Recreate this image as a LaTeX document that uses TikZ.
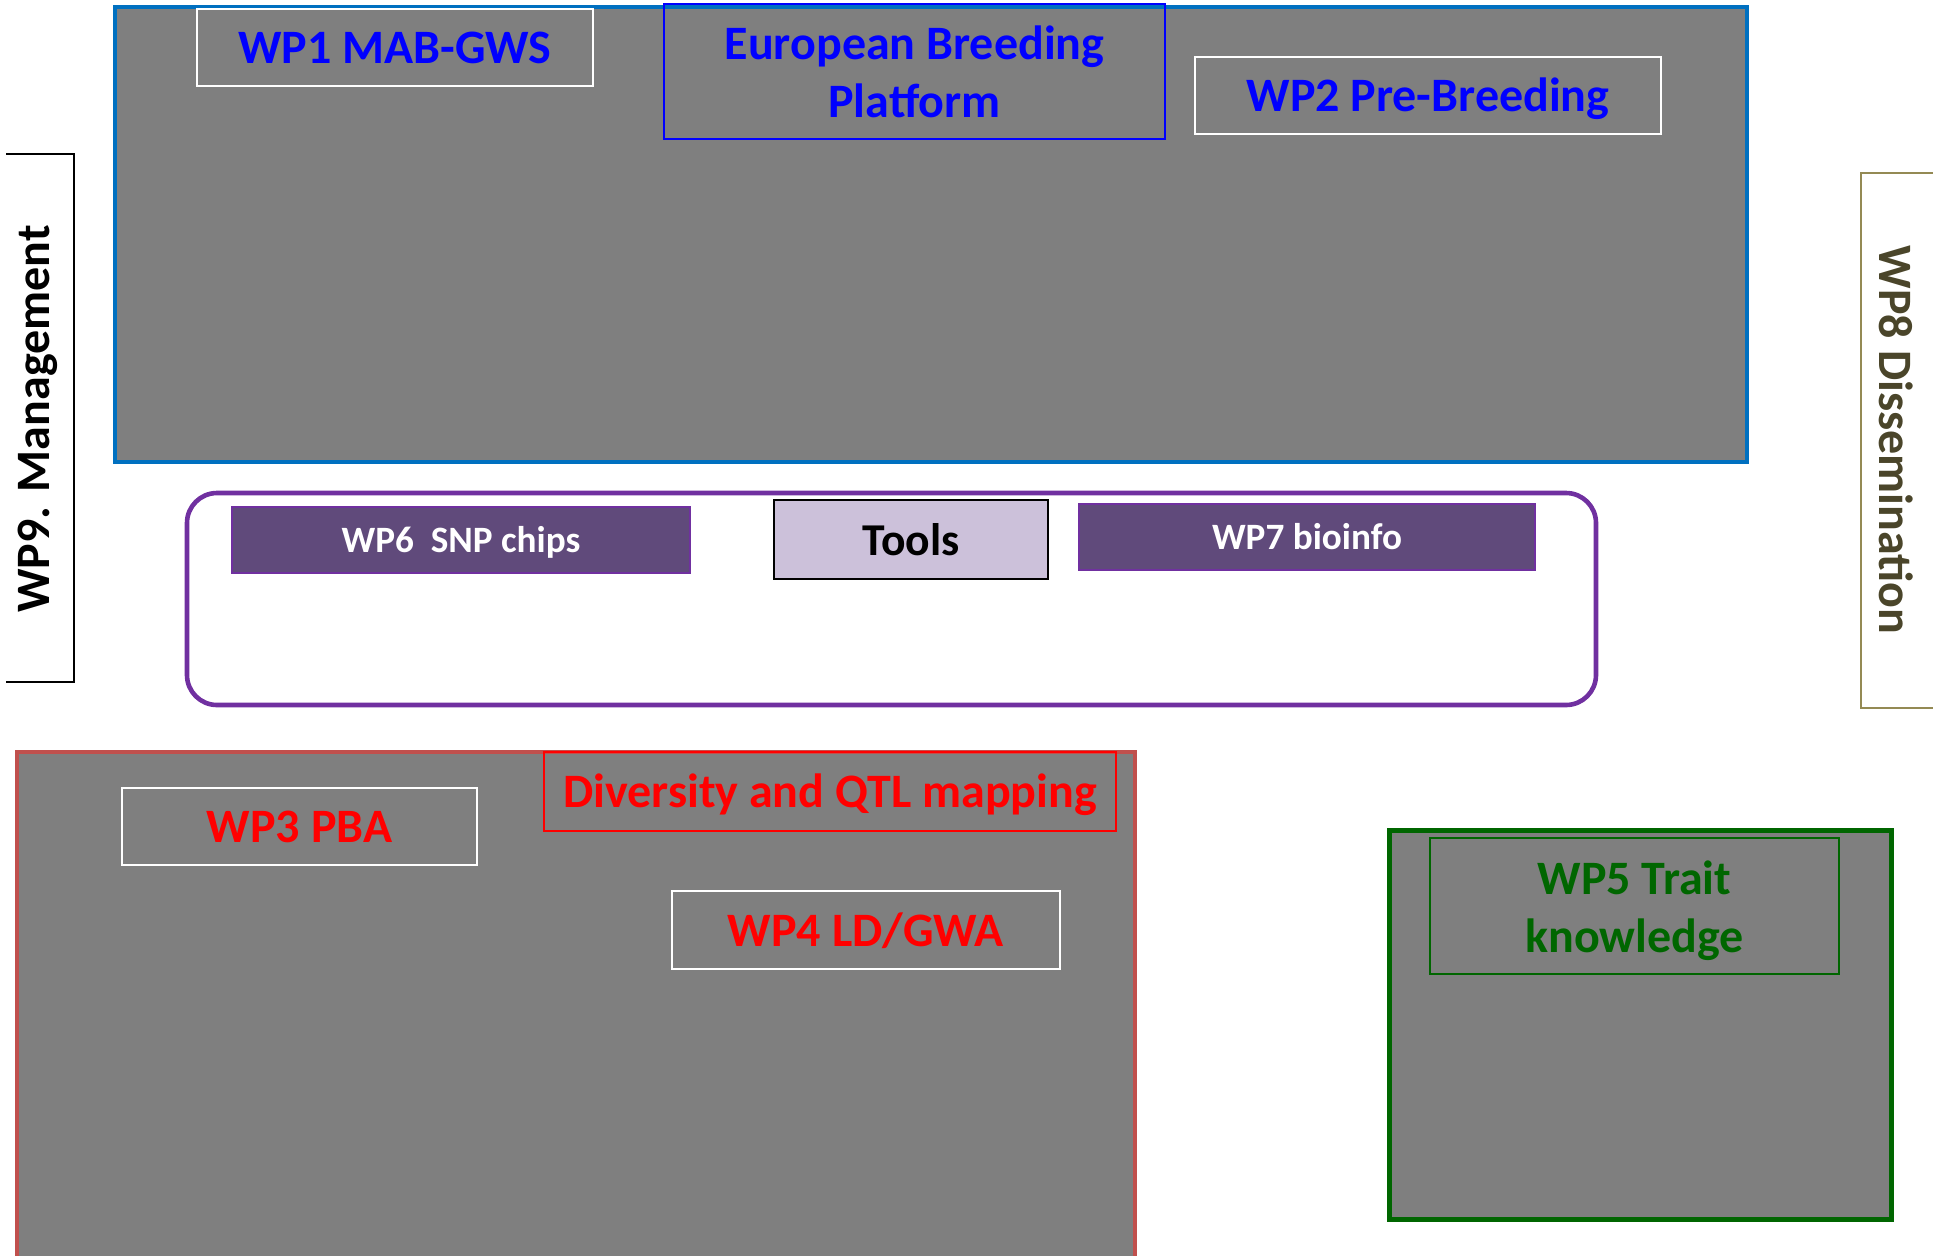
\documentclass[tikz,border=0pt]{standalone}
\usepackage{fontspec}
\setmainfont{Carlito}
\definecolor{boxgray}{HTML}{7F7F7F}
\definecolor{bluebd}{HTML}{0070C0}
\definecolor{bluetx}{HTML}{0000FF}
\definecolor{redtx}{HTML}{FF0000}
\definecolor{redbd}{HTML}{C0504D}
\definecolor{greentx}{HTML}{006600}
\definecolor{purplebd}{HTML}{7030A0}
\definecolor{purplefill}{HTML}{604A7B}
\definecolor{lilac}{HTML}{CCC1DA}
\definecolor{olivebd}{HTML}{948A54}
\definecolor{olivetx}{HTML}{4A452A}
\tikzset{
  px/.style={x=0.5pt,y=-0.5pt},
  bigtxt/.style={font=\fontsize{24}{29}\selectfont\bfseries, align=center, inner sep=0pt},
  midtxt/.style={font=\fontsize{18.6}{22}\selectfont\bfseries, align=center, inner sep=0pt},
  onebig/.style={text height=18.2pt, text depth=1.9pt},
  onemid/.style={text height=14.1pt, text depth=1.5pt},
  area/.style={draw, fill=boxgray, inner sep=0pt},
  label/.style={draw, line width=1pt, inner sep=0pt, bigtxt},
  toolbox/.style={draw=purplebd, line width=1pt, fill=purplefill, text=white, inner sep=0pt, midtxt, onemid},
}
\begin{document}
\begin{tikzpicture}[px]
\useasboundingbox (0,0) rectangle (1933,1255);
% top blue area
\node[area, draw=bluebd, line width=2.2pt, minimum width=816pt, minimum height=227.5pt] (top) at (931,234.5) {};
\node[label, onebig, draw=white, text=bluetx, minimum width=198pt, minimum height=38.5pt] (wp1) at (395,47.5) {WP1 MAB-GWS};
\node[label, draw=bluetx, text=bluetx, minimum width=250.5pt, minimum height=67.5pt] (ebp) at (914.5,71.5) {European Breeding\\Platform};
\node[label, onebig, draw=white, text=bluetx, minimum width=233pt, minimum height=38.5pt] (wp2) at (1428,95.5) {WP2 Pre-Breeding};
% WP9 bracket
\coordinate (m1) at (6,154);
\coordinate (m2) at (74,154);
\coordinate (m3) at (74,682);
\coordinate (m4) at (6,682);
\draw[line width=1pt, black] (m1) -- (m2) -- (m3) -- (m4);
\node[bigtxt, rotate=90] (wp9) at (38,419) {WP9. Management};
% WP8 bracket
\coordinate (d1) at (1940,173);
\coordinate (d2) at (1861,173);
\coordinate (d3) at (1861,708);
\coordinate (d4) at (1940,708);
\draw[line width=1pt, olivebd] (d1) -- (d2) -- (d3) -- (d4);
\node[bigtxt, text=olivetx, rotate=-90] (wp8) at (1896,440) {WP8 Dissemination};
% tools area
\node[draw=purplebd, line width=2.3pt, rounded corners=15pt, fill=white, minimum width=704.5pt, minimum height=106pt, inner sep=0pt] (tools) at (891.5,599) {};
\node[toolbox, minimum width=229pt, minimum height=33pt] (wp6) at (461,540) {WP6\ \ SNP chips};
\node[draw=black, line width=1pt, fill=lilac, inner sep=0pt, minimum width=137pt, minimum height=39.5pt, font=\fontsize{22.8}{27}\selectfont\bfseries, text height=17.3pt, text depth=1.8pt] (toolslbl) at (911,539.5) {Tools};
\node[toolbox, minimum width=228pt, minimum height=33pt] (wp7) at (1307,537) {WP7 bioinfo};
% red area
\node[area, draw=redbd, line width=1.6pt, minimum width=559pt, minimum height=255pt] (bottom) at (576,1007) {};
\node[label, onebig, draw=redtx, text=redtx, minimum width=286pt, minimum height=39.5pt] (div) at (830,791.5) {Diversity and QTL mapping};
\node[label, onebig, draw=white, text=redtx, minimum width=177.5pt, minimum height=38.5pt] (wp3) at (299.5,826.5) {WP3 PBA};
\node[label, onebig, draw=white, text=redtx, minimum width=194pt, minimum height=39pt] (wp4) at (866,930) {WP4 LD/GWA};
% green area
\node[area, draw=greentx, line width=2.5pt, minimum width=251pt, minimum height=194.5pt] (green) at (1640,1024.5) {};
\node[draw=greentx, line width=1pt, inner sep=0pt, minimum width=204.5pt, minimum height=68pt] (wp5) at (1634.5,906) {};
\node[bigtxt, text=greentx] (wp5t) at (1634.5,911) {WP5 Trait\\knowledge};
\end{tikzpicture}
\end{document}
